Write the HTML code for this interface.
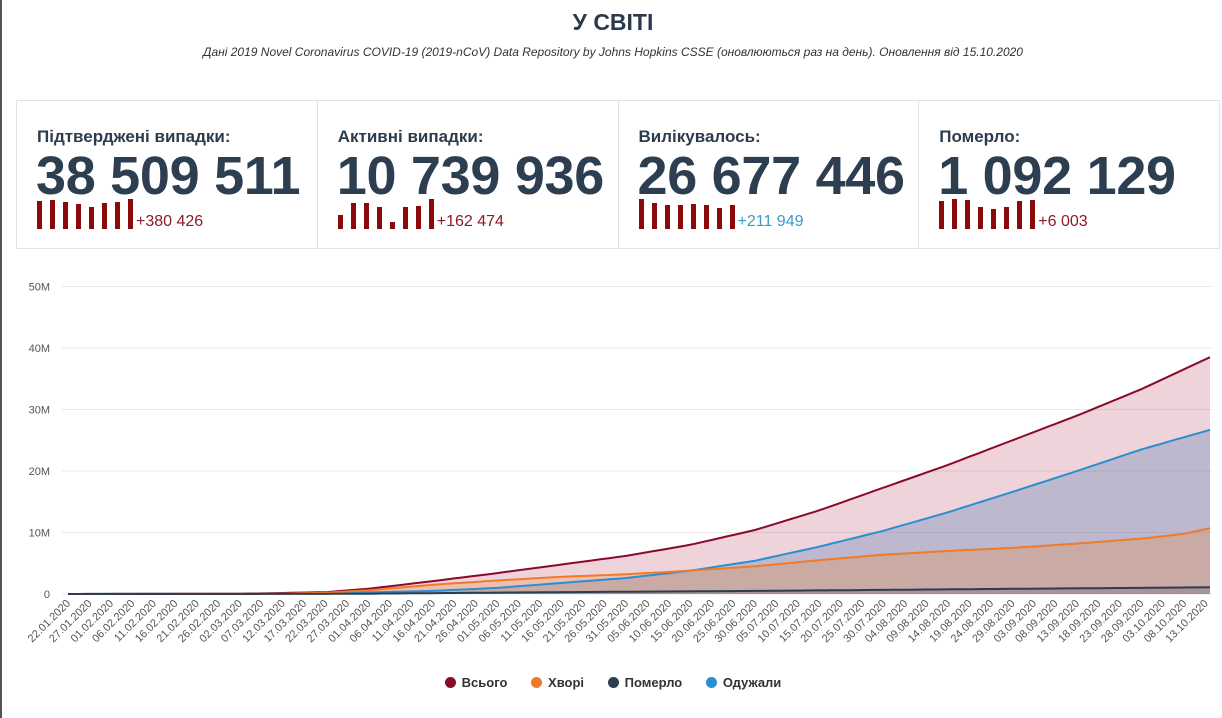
<!DOCTYPE html>
<html><head><meta charset="utf-8"><style>
body{margin:0;width:1222px;height:718px;background:#fff;font-family:"Liberation Sans",sans-serif;position:relative;overflow:hidden;border-left:2px solid #555;box-sizing:border-box}
.t{position:absolute;left:0;width:1222px;text-align:center;color:#2b3a4a}
.cards{position:absolute;left:14px;top:100px;width:1202px;height:147px;border:1px solid #e2e2e2;display:flex}
.c{flex:1;border-right:1px solid #e2e2e2;position:relative}
.c:last-child{border-right:none}
.lb{position:absolute;left:20px;top:26px;font-size:17px;font-weight:bold;color:#2d3c4d}
.num{position:absolute;left:19px;top:44px;font-size:54px;font-weight:bold;color:#2d3e50;letter-spacing:-0.3px}
.bars{position:absolute;left:20px;top:96px;height:32px;display:flex;align-items:flex-end}
.bars i{display:block;width:5px;background:#8a0a0a;margin-right:8px}
.d{font-size:16px;color:#8b1a2a;margin-left:-5px;line-height:14px}
</style></head><body>
<div class="t" style="top:9px;font-size:23px;font-weight:bold">У СВІТІ</div>
<div class="t" style="top:45px;font-size:12px;font-style:italic;color:#333">Дані 2019 Novel Coronavirus COVID-19 (2019-nCoV) Data Repository by Johns Hopkins CSSE (оновлюються раз на день). Оновлення від 15.10.2020</div>
<div class="cards">
<div class="c"><div class="lb">Підтверджені випадки:</div><div class="num">38 509 511</div><div class="bars"><i style="height:28px"></i><i style="height:29px"></i><i style="height:27px"></i><i style="height:25px"></i><i style="height:22px"></i><i style="height:26px"></i><i style="height:27px"></i><i style="height:30px"></i><span class="d">+380 426</span></div></div>
<div class="c"><div class="lb">Активні випадки:</div><div class="num">10 739 936</div><div class="bars"><i style="height:14px"></i><i style="height:26px"></i><i style="height:26px"></i><i style="height:22px"></i><i style="height:7px"></i><i style="height:22px"></i><i style="height:23px"></i><i style="height:30px"></i><span class="d">+162 474</span></div></div>
<div class="c"><div class="lb">Вилікувалось:</div><div class="num">26 677 446</div><div class="bars"><i style="height:30px"></i><i style="height:26px"></i><i style="height:24px"></i><i style="height:24px"></i><i style="height:25px"></i><i style="height:24px"></i><i style="height:21px"></i><i style="height:24px"></i><span class="d" style="color:#3a9ac9">+211 949</span></div></div>
<div class="c"><div class="lb">Померло:</div><div class="num">1 092 129</div><div class="bars"><i style="height:28px"></i><i style="height:30px"></i><i style="height:29px"></i><i style="height:22px"></i><i style="height:20px"></i><i style="height:22px"></i><i style="height:28px"></i><i style="height:29px"></i><span class="d">+6 003</span></div></div>
</div>
<svg id="ch" width="1222" height="718" style="position:absolute;left:-2px;top:0" font-family="Liberation Sans, sans-serif"></svg>
<div style="position:absolute;top:675px;left:0;width:1222px;text-align:center;font-size:13px;font-weight:bold;color:#333">
<span style="display:inline-block;width:11px;height:11px;border-radius:50%;background:#8a0a2a;vertical-align:-1px;margin-right:6px"></span>Всього
<span style="display:inline-block;width:11px;height:11px;border-radius:50%;background:#f07a2a;vertical-align:-1px;margin:0 6px 0 20px"></span>Хворі
<span style="display:inline-block;width:11px;height:11px;border-radius:50%;background:#2d3e50;vertical-align:-1px;margin:0 6px 0 20px"></span>Померло
<span style="display:inline-block;width:11px;height:11px;border-radius:50%;background:#2a8fd0;vertical-align:-1px;margin:0 6px 0 20px"></span>Одужали
</div>
<script>
var s='',X0=68,X1=1210,N=266,Y0=594,K=6.15;
function X(d){return X0+(X1-X0)*d/N}function Y(v){return Y0-v*K}
for(var i=0;i<=5;i++){var y=Y0-i*61.5;s+='<line x1="62" x2="1212" y1="'+y+'" y2="'+y+'" stroke="#e8e8e8"/>';s+='<text x="50" y="'+(y+4)+'" font-size="11" fill="#555" text-anchor="end">'+(i?i*10+'M':'0')+'</text>'}
var m=[31,29,31,30,31,30,31,31,30,31];
for(var k=0;k<=53;k++){var dd=21+k*5,mo=0;while(dd>=m[mo]){dd-=m[mo];mo++}var lab=String(dd+1).padStart(2,'0')+'.'+String(mo+1).padStart(2,'0')+'.2020';var x=X(k*5)+3;s+='<text x="'+x+'" y="604" font-size="11" fill="#555" text-anchor="end" transform="rotate(-45 '+x+' 604)">'+lab+'</text>'}
function interp(p,d){for(var i=1;i<p.length;i++)if(d<=p[i][0]){var a=p[i-1],b=p[i],t=(d-a[0])/(b[0]-a[0]);return a[1]+(b[1]-a[1])*t}return p[p.length-1][1]}
var T=[[0,0],[45,0.1],[60,0.3],[70,0.85],[85,2.1],[100,3.4],[115,4.8],[130,6.2],[145,8.0],[160,10.4],[175,13.6],[190,17.3],[205,21.0],[220,25],[235,29.0],[250,33.3],[266,38.5]];
var R=[[0,0],[50,0.07],[60,0.1],[85,0.5],[100,1.0],[115,1.8],[130,2.6],[145,3.8],[160,5.4],[175,7.7],[190,10.3],[205,13.3],[220,16.6],[235,20.0],[250,23.5],[266,26.7]];
var A=[[0,0],[50,0.05],[60,0.2],[70,0.6],[85,1.5],[100,2.2],[115,2.8],[130,3.2],[145,3.8],[160,4.5],[175,5.5],[190,6.4],[205,7.0],[220,7.5],[235,8.2],[250,9.0],[260,9.8],[266,10.7]];
var D=[[0,0],[55,0.01],[70,0.05],[85,0.14],[100,0.23],[130,0.37],[160,0.5],[190,0.67],[220,0.84],[250,1.0],[266,1.09]];
function path(p){var r='';for(var d=0;d<=N;d+=2)r+=(d?'L':'M')+X(d).toFixed(1)+','+Y(interp(p,d)).toFixed(1);return r}
function area(p,c,o,l){var q=path(p);s+='<path d="'+q+'L'+X1+','+Y0+'L'+X0+','+Y0+'Z" fill="'+c+'" fill-opacity="'+o+'"/>';return '<path d="'+q+'" fill="none" stroke="'+l+'" stroke-width="2"/>'}
var L=area(T,'#c0506a',0.25,'#8a0a2a');
var L2=area(R,'#4a7ab0',0.3,'#2a8fd0');
var L3=area(A,'#f08030',0.25,'#f07a2a');
var L4=area(D,'#2d3e50',0.2,'#2d3e50');
s+=L+L2+L3+L4;
document.getElementById('ch').innerHTML=s;
</script>
</body></html>
